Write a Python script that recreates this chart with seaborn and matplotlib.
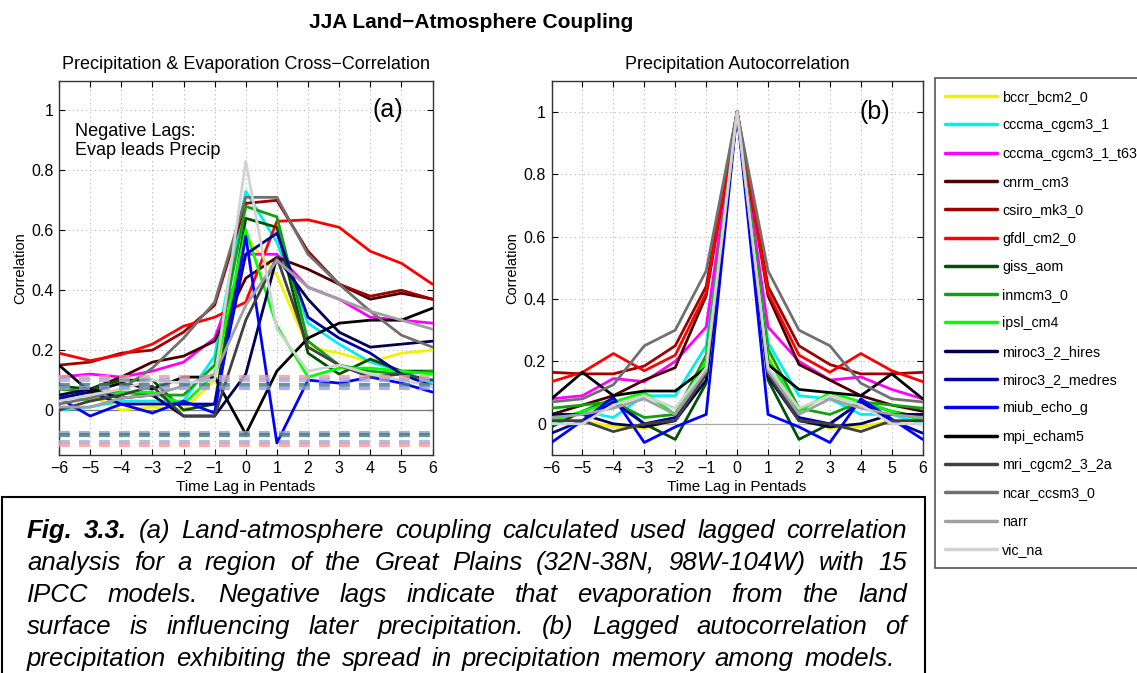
import matplotlib
matplotlib.use("Agg")
import matplotlib.pyplot as plt
import seaborn as sns
import pandas as pd
from matplotlib.patches import Rectangle
from matplotlib.lines import Line2D

# ---------------- data ----------------
lags = [-6, -5, -4, -3, -2, -1, 0, 1, 2, 3, 4, 5, 6]
lag_labels = ["\u22126", "\u22125", "\u22124", "\u22123", "\u22122", "\u22121", "0", "1", "2", "3", "4", "5", "6"]
yticks = [0, 0.2, 0.4, 0.6, 0.8, 1.0]
ytick_labels = ["0", "0.2", "0.4", "0.6", "0.8", "1"]

models = ["bccr_bcm2_0", "cccma_cgcm3_1", "cccma_cgcm3_1_t63", "cnrm_cm3", "csiro_mk3_0",
          "gfdl_cm2_0", "giss_aom", "inmcm3_0", "ipsl_cm4", "miroc3_2_hires",
          "miroc3_2_medres", "miub_echo_g", "mpi_echam5", "mri_cgcm2_3_2a",
          "ncar_ccsm3_0", "narr", "vic_na"]
colors = ["#F2F200", "#00F0F0", "#FF00FF", "#4A0000", "#A00000",
          "#FF0000", "#005200", "#10A010", "#00FF00", "#000050",
          "#0000A0", "#0000FF", "#000000", "#404040",
          "#707070", "#A0A0A0", "#D2D2D2"]

# (a) precipitation / evaporation cross-correlation
xc_bccr   = [0.05, 0.05, 0.00, 0.01, 0.00, 0.10, 0.58, 0.45, 0.21, 0.19, 0.16, 0.19, 0.20]
xc_cccma  = [0.00, 0.01, 0.03, 0.03, 0.03, 0.18, 0.73, 0.56, 0.29, 0.22, 0.16, 0.13, 0.09]
xc_t63    = [0.11, 0.12, 0.11, 0.13, 0.16, 0.24, 0.52, 0.52, 0.41, 0.37, 0.31, 0.30, 0.29]
xc_cnrm   = [0.03, 0.07, 0.11, 0.16, 0.18, 0.23, 0.44, 0.51, 0.47, 0.42, 0.37, 0.39, 0.37]
xc_csiro  = [0.15, 0.16, 0.19, 0.20, 0.26, 0.35, 0.69, 0.70, 0.53, 0.42, 0.38, 0.40, 0.37]
xc_gfdl   = [0.19, 0.165, 0.185, 0.22, 0.28, 0.31, 0.36, 0.63, 0.635, 0.61, 0.53, 0.49, 0.42]
xc_giss   = [0.08, 0.07, 0.10, 0.10, 0.00, 0.02, 0.64, 0.61, 0.19, 0.12, 0.17, 0.13, 0.13]
xc_inmcm  = [0.07, 0.06, 0.06, 0.05, 0.05, 0.15, 0.68, 0.645, 0.23, 0.15, 0.13, 0.12, 0.13]
xc_ipsl   = [0.05, 0.03, 0.06, 0.06, 0.02, 0.12, 0.60, 0.28, 0.11, 0.14, 0.14, 0.13, 0.12]
xc_hires  = [0.05, 0.07, 0.04, 0.05, -0.02, -0.02, 0.12, 0.51, 0.37, 0.26, 0.21, 0.22, 0.23]
xc_medres = [0.04, 0.06, 0.02, 0.02, 0.02, 0.02, 0.52, 0.59, 0.31, 0.24, 0.19, 0.12, 0.08]
xc_miub   = [0.04, -0.02, 0.02, -0.01, 0.03, -0.01, 0.58, -0.11, 0.10, 0.09, 0.11, 0.09, 0.06]
xc_mpi    = [0.15, 0.06, 0.09, 0.07, 0.11, 0.11, -0.08, 0.13, 0.24, 0.29, 0.30, 0.30, 0.34]
xc_mri    = [0.00, 0.03, 0.05, 0.08, -0.02, -0.02, 0.30, 0.51, 0.21, 0.15, 0.11, 0.12, 0.10]
xc_ncar   = [0.02, 0.04, 0.07, 0.14, 0.24, 0.36, 0.71, 0.71, 0.52, 0.42, 0.33, 0.25, 0.21]
xc_narr   = [0.01, 0.01, 0.04, 0.05, 0.08, 0.12, 0.35, 0.50, 0.41, 0.37, 0.33, 0.30, 0.27]
xc_vic    = [0.03, 0.05, 0.07, 0.10, 0.09, 0.10, 0.83, 0.27, 0.13, 0.15, 0.12, 0.10, 0.08]

# significance levels (dashed) in panel (a)
sig_levels = [0.110, 0.100, 0.082, 0.075, -0.077, -0.084, -0.106, -0.115]
sig_colors = ["#F29A9A", "#A8A8DC", "#3A8272", "#9A9AE0", "#9A9AE0", "#3A8272", "#A8A8DC", "#F29A9A"]

# (b) precipitation autocorrelation
ac_bccr   = [0.01, 0.01, -0.01, -0.015, 0.01, 0.20, 1.0, 0.22, 0.02, -0.015, -0.01, 0.01, 0.01]
ac_cccma  = [0.00, 0.04, 0.02, 0.09, 0.09, 0.25, 1.0, 0.26, 0.09, 0.08, 0.03, 0.03, 0.00]
ac_t63    = [0.08, 0.09, 0.145, 0.135, 0.20, 0.31, 1.0, 0.31, 0.20, 0.14, 0.15, 0.11, 0.08]
ac_cnrm   = [0.03, 0.06, 0.09, 0.14, 0.18, 0.41, 1.0, 0.41, 0.19, 0.14, 0.09, 0.06, 0.04]
ac_csiro  = [0.165, 0.16, 0.16, 0.185, 0.25, 0.44, 1.0, 0.44, 0.25, 0.19, 0.16, 0.16, 0.165]
ac_gfdl   = [0.135, 0.165, 0.225, 0.17, 0.22, 0.42, 1.0, 0.42, 0.22, 0.165, 0.225, 0.17, 0.135]
ac_giss   = [-0.01, 0.04, 0.08, 0.00, -0.05, 0.13, 1.0, 0.14, -0.05, 0.00, 0.07, 0.04, 0.02]
ac_inmcm  = [0.05, 0.06, 0.07, 0.02, 0.03, 0.22, 1.0, 0.24, 0.05, 0.03, 0.07, 0.06, 0.05]
ac_ipsl   = [0.01, 0.04, 0.07, 0.10, 0.03, 0.20, 1.0, 0.21, 0.04, 0.10, 0.07, 0.04, 0.01]
ac_hires  = [0.03, 0.03, 0.00, -0.01, 0.01, 0.14, 1.0, 0.15, 0.01, -0.01, 0.00, 0.03, 0.03]
ac_medres = [-0.03, 0.01, 0.07, 0.00, 0.02, 0.16, 1.0, 0.16, 0.02, 0.00, 0.07, 0.01, -0.03]
ac_miub   = [-0.06, 0.01, 0.085, -0.06, -0.01, 0.03, 1.0, 0.03, -0.01, -0.06, 0.08, 0.015, -0.05]
ac_mpi    = [0.08, 0.165, 0.09, 0.105, 0.105, 0.18, 1.0, 0.19, 0.11, 0.10, 0.09, 0.16, 0.08]
ac_mri    = [0.01, 0.01, -0.025, 0.00, 0.01, 0.16, 1.0, 0.16, 0.01, 0.00, -0.025, 0.01, 0.01]
ac_ncar   = [0.07, 0.08, 0.125, 0.25, 0.30, 0.49, 1.0, 0.49, 0.30, 0.25, 0.13, 0.08, 0.07]
ac_narr   = [0.02, 0.03, 0.05, 0.08, 0.03, 0.17, 1.0, 0.17, 0.03, 0.08, 0.05, 0.03, 0.02]
ac_vic    = [0.00, 0.00, 0.06, 0.09, 0.05, 0.18, 1.0, 0.18, 0.05, 0.09, 0.06, 0.00, 0.00]

xc_series = [xc_bccr, xc_cccma, xc_t63, xc_cnrm, xc_csiro, xc_gfdl, xc_giss, xc_inmcm, xc_ipsl,
             xc_hires, xc_medres, xc_miub, xc_mpi, xc_mri, xc_ncar, xc_narr, xc_vic]
ac_series = [ac_bccr, ac_cccma, ac_t63, ac_cnrm, ac_csiro, ac_gfdl, ac_giss, ac_inmcm, ac_ipsl,
             ac_hires, ac_medres, ac_miub, ac_mpi, ac_mri, ac_ncar, ac_narr, ac_vic]


def long_df(series):
    rows = []
    for m, vals in zip(models, series):
        for lag, v in zip(lags, vals):
            rows.append({"lag": lag, "corr": v, "model": m})
    return pd.DataFrame(rows)


df_a = long_df(xc_series)
df_b = long_df(ac_series)
palette = dict(zip(models, colors))

# ---------------- style ----------------
sns.set_style("ticks")
plt.rcParams["font.family"] = ["Liberation Sans", "DejaVu Sans"]
plt.rcParams["text.color"] = "black"
plt.rcParams["axes.labelcolor"] = "black"

W, H = 1137, 673
fig = plt.figure(figsize=(W / 100, H / 100), dpi=100)


def fx(px):
    return px / W


def fy(py):
    return 1 - py / H


ax_top, ax_bot = 80.5, 455
ax_a = fig.add_axes([fx(59), fy(ax_bot), fx(432.5 - 59), (ax_bot - ax_top) / H])
ax_b = fig.add_axes([fx(551.5), fy(ax_bot), fx(922.7 - 551.5), (ax_bot - ax_top) / H])

for ax, df, ylim in [(ax_a, df_a, (-0.15, 1.1)), (ax_b, df_b, (-0.1, 1.1))]:
    ax.axhline(0, color="#7a7a7a" if ax is ax_a else "#a8a8a8", lw=0.9, zorder=1)
    sns.lineplot(data=df, x="lag", y="corr", hue="model", hue_order=models,
                 palette=palette, linewidth=2.0, legend=False, ax=ax,
                 estimator=None, sort=False, zorder=3)
    ax.set_xlim(-6, 6)
    ax.set_ylim(*ylim)
    ax.set_xticks(lags)
    ax.set_xticklabels(lag_labels)
    ax.set_yticks(yticks)
    ax.set_yticklabels(ytick_labels)
    ax.tick_params(direction="in", top=True, right=True, length=4, width=0.8,
                   labelsize=11.5, pad=4, colors="black")
    ax.grid(True, linestyle=(0, (1, 3)), color="#b5b5b5", linewidth=0.8)
    for s in ax.spines.values():
        s.set_linewidth(1.0)
        s.set_color("#333333")
    ax.set_xlabel("Time Lag in Pentads", fontsize=11, labelpad=3)
    ax.set_ylabel("Correlation", fontsize=10.5, labelpad=3)

for lvl, c in zip(sig_levels, sig_colors):
    ax_a.axhline(lvl, color=c, lw=3.0, linestyle=(0, (2.6, 2.2)), alpha=0.8, zorder=4)

ax_a.set_title("Precipitation & Evaporation Cross\u2212Correlation", fontsize=13, pad=8)
ax_b.set_title("Precipitation Autocorrelation", fontsize=13, pad=8)
ax_a.text(4.55, 1.0, "(a)", fontsize=18, ha="center", va="center")
ax_b.text(4.45, 1.0, "(b)", fontsize=18, ha="center", va="center")
ax_a.text(-5.5, 0.93, "Negative Lags:", fontsize=13, ha="left", va="center")
ax_a.text(-5.5, 0.865, "Evap leads Precip", fontsize=13, ha="left", va="center")

fig.text(fx(471), fy(23), "JJA Land\u2212Atmosphere Coupling", fontsize=15,
         weight="bold", ha="center", va="center")

# ---------------- legend ----------------
fig.patches.append(Rectangle((fx(935), fy(568)), 0.3, (568 - 78) / H, transform=fig.transFigure,
                             facecolor="white", edgecolor="#555555", lw=1.2, zorder=5))
handles = [Line2D([], [], color=c, lw=2.5) for c in colors]
leg = fig.legend(handles, models, loc="upper left", bbox_to_anchor=(fx(945), fy(90)),
                 bbox_transform=fig.transFigure, frameon=False, fontsize=10.3,
                 handlelength=3.6, handletextpad=0.4, labelspacing=1.0,
                 borderaxespad=0, borderpad=0)
leg.set_zorder(6)

# ---------------- caption ----------------
fig.patches.append(Rectangle((fx(2), -0.05), fx(923), (673 - 497) / H + 0.05,
                             transform=fig.transFigure, fill=False, edgecolor="black", lw=1.5))

cap_lines = [
    "Fig. 3.3. (a) Land-atmosphere coupling calculated used lagged correlation",
    "analysis for a region of the Great Plains (32N-38N, 98W-104W) with 15",
    "IPCC models. Negative lags indicate that evaporation from the land",
    "surface is influencing later precipitation. (b) Lagged autocorrelation of",
    "precipitation exhibiting the spread in precipitation memory among models.",
]
cap_base = [538, 570, 602, 634, 666]
cap_left, cap_right = 27, 907
FS = 18.5
renderer = fig.canvas.get_renderer()
for i, (line, y) in enumerate(zip(cap_lines, cap_base)):
    words = line.split(" ")
    texts = []
    for j, w in enumerate(words):
        bold = (i == 0 and j < 2)
        t = fig.text(0, fy(y), w, fontsize=FS, style="italic", color="black",
                     weight="bold" if bold else "normal", ha="left", va="baseline")
        texts.append(t)
    widths = [t.get_window_extent(renderer).width for t in texts]
    gap = (cap_right - cap_left - sum(widths)) / (len(words) - 1)
    if i == len(cap_lines) - 1:
        gap = min(gap, FS * 0.4 * 100 / 72)
    x = cap_left
    for t, wdt in zip(texts, widths):
        t.set_x(fx(x))
        x += wdt + gap

fig.savefig("out.png", dpi=100)
